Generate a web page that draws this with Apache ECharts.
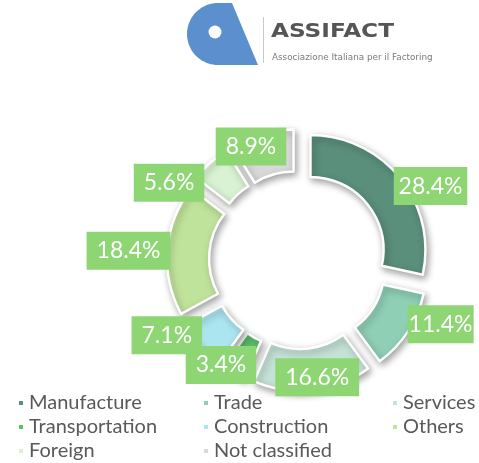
<!DOCTYPE html>
<html>
<head>
<meta charset="utf-8">
<script src="https://cdn.jsdelivr.net/npm/echarts@6/dist/echarts.min.js"></script>
<style>
  html, body { margin: 0; padding: 0; background: #ffffff; }
  #chart { width: 479px; height: 463px; }
</style>
</head>
<body>
<div id="chart"></div>
<script>
// Factoring turnover by sector of the assigned debtor (share of total, %)
const sectors = ['Manufacture', 'Trade', 'Services', 'Transportation', 'Construction', 'Others', 'Foreign', 'Not classified'];
const shares = [28.4, 11.4, 16.6, 3.4, 7.1, 18.4, 5.6, 8.9];
const sectorColors = ['#5a8f7b', '#8fcfb6', '#c5e2d6', '#5cc26a', '#abe5ef', '#c0e39b', '#d9f2d3', '#d9d9d9'];

// Legend entries, laid out in three columns
const legendColumns = [
  ['Manufacture', 'Transportation', 'Foreign'],
  ['Trade', 'Construction', 'Not classified'],
  ['Services', 'Others']
];
const legendColumnLeft = [17, 202, 391];

// Doughnut geometry
const pieCenter = [298, 260];
const pieRadius = [73, 115];
const sliceOffset = 16;
// Value labels sit on an ellipse around the ring (wider than tall)
const labelSpread = [170, 118];

// Logo mark: rounded "a" with a slanted stem
function logoMarkPoints() {
  const cx = 218, cy = 34, r = 31;
  const pts = [[232, 3], [258, 65], [cx, 65]];
  for (let k = 1; k < 40; k++) {
    const a = Math.PI / 2 + Math.PI * k / 40;
    pts.push([cx + r * Math.cos(a), cy + r * Math.sin(a)]);
  }
  pts.push([cx, 3]);
  return pts;
}

const chart = echarts.init(document.getElementById('chart'), null, { renderer: 'canvas' });

const option = {
  animation: false,
  backgroundColor: '#ffffff',
  legend: legendColumns.map((col, i) => ({
    data: col,
    orient: 'vertical',
    left: legendColumnLeft[i],
    top: 391,
    padding: 0,
    itemGap: 0,
    itemWidth: 6,
    itemHeight: 6,
    icon: 'rect',
    selectedMode: false,
    textStyle: { fontFamily: 'Lato', fontSize: 20, color: '#595959', lineHeight: 24 }
  })),
  graphic: {
    elements: [
      { type: 'polygon', shape: { points: logoMarkPoints() }, style: { fill: '#5b8fcd' } },
      { type: 'circle', shape: { cx: 215, cy: 32, r: 6.5 }, style: { fill: '#ffffff' } },
      { type: 'line', shape: { x1: 263.5, y1: 17, x2: 263.5, y2: 63 }, style: { stroke: '#c8c8c8', lineWidth: 1 } },
      { type: 'text', x: 271, y: 22, scaleX: 1.16, style: { text: 'ASSIFACT', x: 0, y: 0, font: 'bold 20px "DejaVu Sans"', fill: '#555555' } },
      { type: 'text', style: { text: 'Associazione Italiana per il Factoring', x: 272, y: 53, font: '8.8px "DejaVu Sans"', fill: '#7a7a7a' } }
    ]
  },
  series: [{
    type: 'pie',
    center: pieCenter,
    radius: pieRadius,
    startAngle: 90,
    clockwise: true,
    selectedMode: 'multiple',
    selectedOffset: sliceOffset,
    avoidLabelOverlap: true,
    emphasis: { disabled: true },
    itemStyle: {
      borderColor: '#ffffff',
      borderWidth: 2.5,
      shadowBlur: 7,
      shadowColor: 'rgba(0,0,0,0.35)',
      shadowOffsetX: 2,
      shadowOffsetY: 3
    },
    label: {
      show: true,
      position: 'outside',
      distanceToLabelLine: 0,
      overflow: 'none',
      formatter: p => p.value.toFixed(1) + '%',
      fontFamily: 'Lato',
      fontSize: 23,
      color: '#ffffff',
      backgroundColor: '#8dd673',
      padding: [8, 10, 7, 10]
    },
    labelLine: { show: false, length: 10, length2: 0 },
    // Centre each label on the ellipse along its label's direction;
    // the slice offset is applied to the label afterwards, so remove it here.
    labelLayout: params => {
      const r = params.labelRect;
      const ax = params.align === 'right' ? r.x + r.width : (params.align === 'center' ? r.x + r.width / 2 : r.x);
      const ay = r.y + r.height / 2;
      const vx = ax - pieCenter[0], vy = ay - pieCenter[1];
      const len = Math.sqrt(vx * vx + vy * vy) || 1;
      const ux = vx / len, uy = vy / len;
      const tx = pieCenter[0] + labelSpread[0] * ux - sliceOffset * ux;
      const ty = pieCenter[1] + labelSpread[1] * uy - sliceOffset * uy;
      return { align: 'center', verticalAlign: 'middle', dx: tx - ax, dy: ty - ay };
    },
    data: sectors.map((name, i) => ({
      name: name,
      value: shares[i],
      selected: true,
      itemStyle: { color: sectorColors[i] }
    }))
  }]
};

chart.setOption(option);
</script>
</body>
</html>
